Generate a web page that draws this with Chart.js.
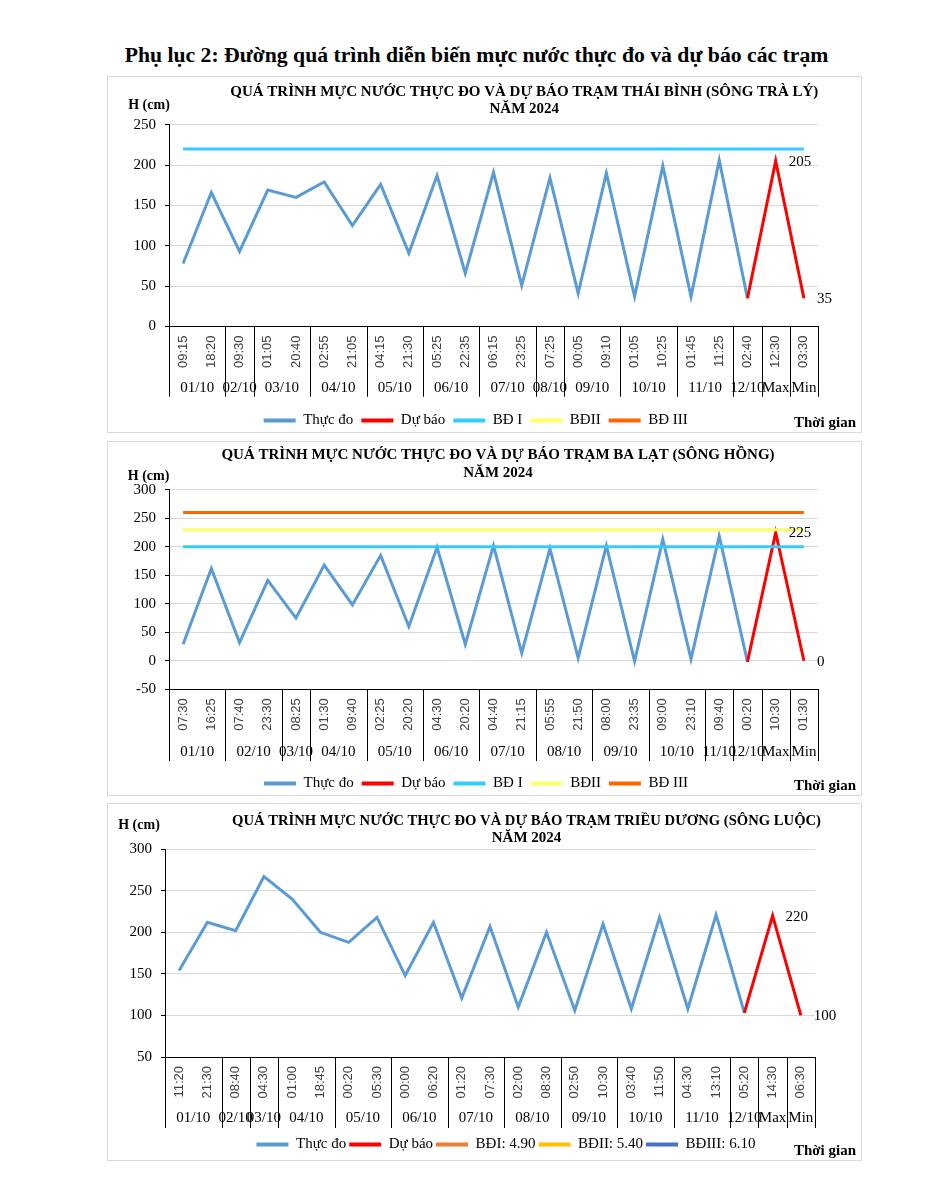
<!DOCTYPE html>
<html>
<head>
<meta charset="utf-8">
<script src="https://cdn.jsdelivr.net/npm/chart.js@4.4.1/dist/chart.umd.min.js"></script>
<style>
  body { margin: 0; background: #fff; width: 927px; height: 1180px; position: relative; overflow: hidden; font-family: "Liberation Serif", "Times New Roman", serif; }
  h1 { position: absolute; left: 0; width: 953px; top: 40px; margin: 0; text-align: center; font-size: 21.7px; font-weight: bold; line-height: 30px; }
  .box { position: absolute; left: 107px; width: 755px; border: 1px solid #d9d9d9; box-sizing: border-box; pointer-events: none; }
  canvas { position: absolute; left: 107px; }
</style>
</head>
<body>
<h1>Phụ lục 2: Đường quá trình diễn biến mực nước thực đo và dự báo các trạm</h1>
<canvas id="c1" width="755" height="362" style="top:76px"></canvas>
<canvas id="c2" width="755" height="360" style="top:441px"></canvas>
<canvas id="c3" width="755" height="359" style="top:803px"></canvas>
<div class="box" style="top:76px;height:357px"></div>
<div class="box" style="top:441px;height:355px"></div>
<div class="box" style="top:803px;height:358px"></div>
<script>
// Trạm Thái Bình (sông Trà Lý)
const times1 = ["09:15","18:20","09:30","01:05","20:40","02:55","21:05","04:15","21:30","05:25","22:35","06:15","23:25","07:25","00:05","09:10","01:05","10:25","01:45","11:25","02:40","12:30","03:30"];
const days1 = ["01/10","02/10","03/10","04/10","05/10","06/10","07/10","08/10","09/10","10/10","11/10","12/10","Max","Min"];
const daySpan1 = [2,1,2,2,2,2,2,1,2,2,2,1,1,1];
const measured1 = [78,166,93,169,160,179,125,176,91,187,66,191,51,184,41,190,37,199,37,206,35,null,null];
const forecast1 = [null,null,null,null,null,null,null,null,null,null,null,null,null,null,null,null,null,null,null,null,35,205,35];
const levels1 = [220, null, null];

// Trạm Ba Lạt (sông Hồng)
const times2 = ["07:30","16:25","07:40","23:30","08:25","01:30","09:40","02:25","20:20","04:30","20:20","04:40","21:15","05:55","21:50","08:00","23:35","09:00","23:10","09:40","00:20","10:30","01:30"];
const days2 = ["01/10","02/10","03/10","04/10","05/10","06/10","07/10","08/10","09/10","10/10","11/10","12/10","Max","Min"];
const daySpan2 = [2,2,1,2,2,2,2,2,2,2,1,1,1,1];
const measured2 = [29,162,32,141,75,168,98,185,60,199,29,202,14,197,5,202,-1,213,3,219,-2,null,null];
const forecast2 = [null,null,null,null,null,null,null,null,null,null,null,null,null,null,null,null,null,null,null,null,-2,225,0];
const levels2 = [200, 230, 260];

// Trạm Triều Dương (sông Luộc)
const times3 = ["11:20","21:30","08:40","04:30","01:00","18:45","00:20","05:30","00:00","06:20","01:20","07:30","02:00","08:30","02:50","10:30","03:40","11:50","04:30","13:10","05:20","14:30","06:30"];
const days3 = ["01/10","02/10","03/10","04/10","05/10","06/10","07/10","08/10","09/10","10/10","11/10","12/10","Max","Min"];
const daySpan3 = [2,1,1,2,2,2,2,2,2,2,2,1,1,1];
const measured3 = [154,212,202,267,240,200,188,218,148,212,121,207,110,200,106,210,108,218,108,221,103,null,null];
const forecast3 = [null,null,null,null,null,null,null,null,null,null,null,null,null,null,null,null,null,null,null,null,103,220,100];
const levels3 = [490, 540, 610];

const names12 = ["Thực đo", "Dự báo", "BĐ I", "BĐII", "BĐ III"];
const names3 = ["Thực đo", "Dự báo", "BĐI: 4.90", "BĐII: 5.40", "BĐIII: 6.10"];

Chart.defaults.font.family = '"Liberation Serif", "Times New Roman", serif';
Chart.defaults.color = "#000";

// tiêu đề, nhãn ngày, nhãn dự báo
const extras = {
  id: "extras",
  afterLayout(chart, args, o) {
    const lg = chart.legend;
    const dx = o.legendX - (lg.left + lg.right) / 2;
    lg.left += dx;
    lg.right += dx;
  },
  afterDraw(chart, args, o) {
    const ctx = chart.ctx, x = chart.scales.x, area = chart.chartArea;
    ctx.save();
    ctx.fillStyle = "#000";
    ctx.textBaseline = "middle";
    ctx.textAlign = "center";
    ctx.font = 'bold 15px "Liberation Serif"';
    o.title.forEach((t, i) => ctx.fillText(t, o.titleX, o.titleY[i], i === 0 ? o.titleW : 1000));
    ctx.font = 'bold 14px "Liberation Serif"';
    ctx.fillText("H (cm)", o.hX, o.hY);
    ctx.font = 'bold 15px "Liberation Serif"';
    ctx.textAlign = "right";
    ctx.fillText("Thời gian", 749, o.tgY);

    const half = (x.getPixelForValue(1) - x.getPixelForValue(0)) / 2;
    ctx.font = '15px "Liberation Serif"';
    ctx.textAlign = "center";
    ctx.strokeStyle = "#000";
    ctx.lineWidth = 1;
    ctx.beginPath();
    let i0 = 0;
    let a = x.getPixelForValue(0) - half;
    ctx.moveTo(Math.round(a) + 0.5, area.bottom);
    ctx.lineTo(Math.round(a) + 0.5, o.sepBottom);
    o.days.forEach((d, k) => {
      const n = o.spans[k];
      const b = x.getPixelForValue(i0 + n - 1) + half;
      ctx.fillText(d, (a + b) / 2, o.dayY);
      ctx.moveTo(Math.round(b) + 0.5, area.bottom);
      ctx.lineTo(Math.round(b) + 0.5, o.sepBottom);
      a = b;
      i0 += n;
    });
    ctx.stroke();

    const meta = chart.getDatasetMeta(1);
    const vals = chart.data.datasets[1].data;
    ctx.textAlign = "left";
    [vals.length - 2, vals.length - 1].forEach(i => {
      const p = meta.data[i];
      ctx.fillText(String(vals[i]), p.x + 13, p.y + 1);
    });
    ctx.restore();
  }
};

function makeChart(id, times, measured, forecast, levels, names, days, spans, o) {
  const colors = o.colors;
  const lvl = levels.map(v => (v === null ? [] : times.map(() => v)));
  new Chart(document.getElementById(id), {
    type: "line",
    data: {
      labels: times,
      datasets: [
        { label: names[0], data: measured, borderColor: "#5B9BD5", backgroundColor: "#5B9BD5", order: 4 },
        { label: names[1], data: forecast, borderColor: "#FF0000", backgroundColor: "#FF0000", order: 3 },
        { label: names[2], data: lvl[0], borderColor: colors[0], backgroundColor: colors[0], order: 2 },
        { label: names[3], data: lvl[1], borderColor: colors[1], backgroundColor: colors[1], order: 1 },
        { label: names[4], data: lvl[2], borderColor: colors[2], backgroundColor: colors[2], order: 0 },
      ],
    },
    options: {
      responsive: false,
      animation: false,
      elements: {
        line: { borderWidth: 3, tension: 0, fill: false },
        point: { radius: 0, hoverRadius: 0 },
      },
      layout: { padding: { top: o.padTop, right: o.padRight, left: 10, bottom: 0 } },
      scales: {
        x: {
          offset: true,
          grid: { display: false, drawTicks: false },
          border: { display: true, color: "#000", width: 1 },
          ticks: {
            autoSkip: false, minRotation: 90, maxRotation: 90, padding: 9,
            color: "#404040", font: { family: '"Liberation Sans", Arial, sans-serif', size: 13 },
          },
          afterFit: s => { s.height = o.xH; },
        },
        y: {
          min: o.yMin, max: o.yMax,
          ticks: { stepSize: 50, padding: 9, font: { size: 15 } },
          grid: { color: "#d9d9d9", lineWidth: 1, drawTicks: true, tickLength: 4, tickColor: "#000" },
          border: { display: true, color: "#000", width: 1 },
          afterFit: s => { s.width = o.yW; },
        },
      },
      plugins: {
        legend: {
          position: "bottom",
          labels: {
            boxWidth: 32, boxHeight: 4, padding: o.legendPad, color: "#000", font: { size: 15 },
            sort: (p, q) => p.datasetIndex - q.datasetIndex,
            generateLabels(chart) {
              return Chart.defaults.plugins.legend.labels.generateLabels(chart)
                .map(l => Object.assign(l, { fillStyle: l.strokeStyle, lineWidth: 0 }));
            },
          },
        },
        tooltip: { enabled: false },
        extras: Object.assign({ days: days, spans: spans }, o),
      },
    },
    plugins: [extras],
  });
}

makeChart("c1", times1, measured1, forecast1, levels1, names12, days1, daySpan1, {
  colors: ["#33CCFF", "#FFFF66", "#FF6600"],
  padTop: 48.7, padRight: 44, yW: 52, xH: 78.5, legendPad: 8, legendX: 368.7, yMin: 0, yMax: 250,
  title: ["QUÁ TRÌNH MỰC NƯỚC THỰC ĐO VÀ DỰ BÁO TRẠM THÁI BÌNH (SÔNG TRÀ LÝ)", "NĂM 2024"],
  titleX: 417.3, titleY: [15.7, 33], titleW: 588, hX: 42, hY: 29, tgY: 346.7, dayY: 312, sepBottom: 320.7,
});

makeChart("c2", times2, measured2, forecast2, levels2, names12, days2, daySpan2, {
  colors: ["#33CCFF", "#FFFF66", "#FF6600"],
  padTop: 48.8, padRight: 44, yW: 52, xH: 78.7, legendPad: 8, legendX: 369, yMin: -50, yMax: 300,
  title: ["QUÁ TRÌNH MỰC NƯỚC THỰC ĐO VÀ DỰ BÁO TRẠM BA LẠT (SÔNG HỒNG)", "NĂM 2024"],
  titleX: 391, titleY: [14, 32.3], titleW: 565, hX: 41.6, hY: 35, tgY: 344.7, dayY: 311.3, sepBottom: 320,
});

makeChart("c3", times3, measured3, forecast3, levels3, names3, days3, daySpan3, {
  colors: ["#ED7D31", "#FFC000", "#4472C4"],
  padTop: 46.2, padRight: 47, yW: 48, xH: 77, legendPad: 3, legendX: 399, yMin: 50, yMax: 300,
  title: ["QUÁ TRÌNH MỰC NƯỚC THỰC ĐO VÀ DỰ BÁO TRẠM TRIỀU DƯƠNG (SÔNG LUỘC)", "NĂM 2024"],
  titleX: 419.5, titleY: [17.7, 34.7], titleW: 589, hX: 32, hY: 22, tgY: 347.7, dayY: 314.7, sepBottom: 325,
});
</script>
</body>
</html>
